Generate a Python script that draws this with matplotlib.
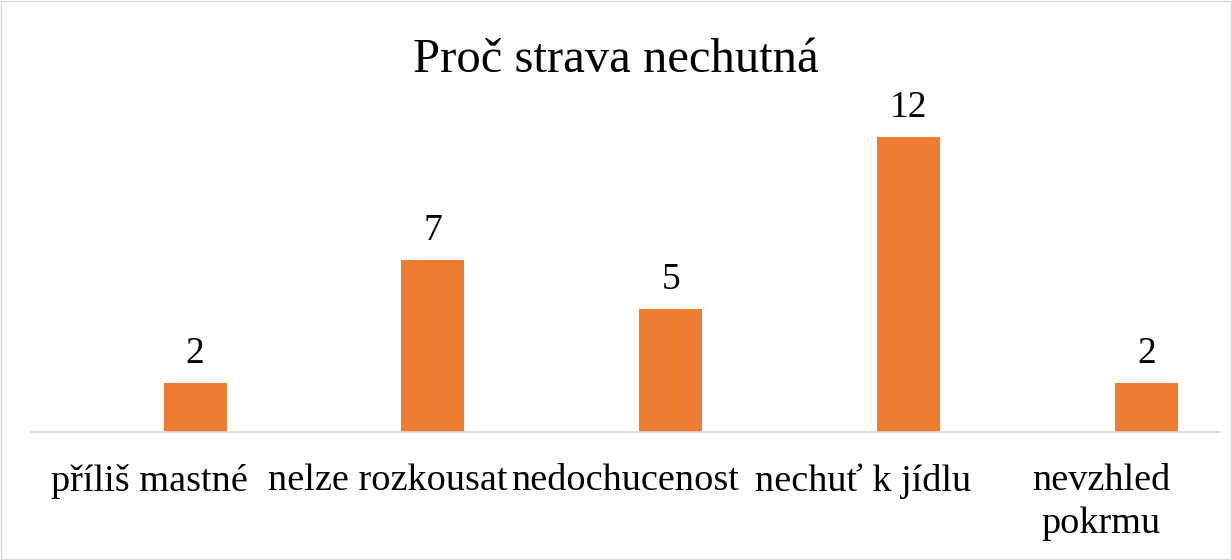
import matplotlib.pyplot as plt
from matplotlib.patches import Rectangle

plt.rcParams['font.family'] = ['Liberation Serif', 'DejaVu Serif']

categories = ['příliš mastné', 'nelze rozkousat', 'nedochucenost', 'nechuť k jídlu', 'nevzhled\npokrmu']
values = [2, 7, 5, 12, 2]
title = 'Proč strava nechutná'

fig = plt.figure(figsize=(12.32, 5.6), dpi=100)
ax = fig.add_axes([31 / 1232, 1 - 432 / 560, 1189 / 1232, 344 / 560])

x = list(range(len(categories)))
bars = ax.bar([i + 0.19 for i in x], values, width=0.265, color='#ed7d31')
for b, v in zip(bars, values):
    ax.text(b.get_x() + b.get_width() / 2, v + 0.5, str(v),
            ha='center', va='bottom', fontsize=27)

ax.set_xlim(-0.5, len(categories) - 0.5)
ax.set_ylim(0, 14)
ax.set_xticks(x)
ax.set_xticklabels(categories, fontsize=27.5, linespacing=1.3)
ax.tick_params(axis='x', length=0, pad=23)
ax.set_yticks([])
for s in ['top', 'right', 'left']:
    ax.spines[s].set_visible(False)
ax.spines['bottom'].set_color('#d9d9d9')
ax.spines['bottom'].set_linewidth(1.2)

fig.text(0.5, 1 - 60 / 560, title, ha='center', va='center', fontsize=35)

fig.patches.append(Rectangle((0.001, 0.001), 0.998, 0.997, transform=fig.transFigure,
                             fill=False, edgecolor='#d9d9d9', linewidth=1))

fig.savefig('out.png', dpi=100)
